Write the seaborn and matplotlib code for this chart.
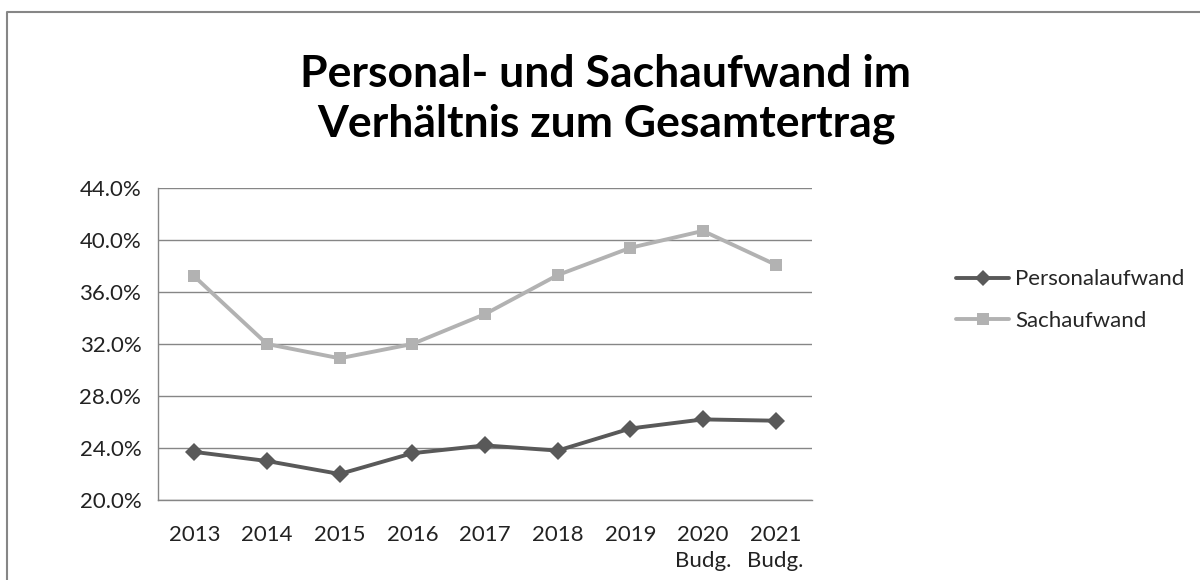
import pandas as pd
import matplotlib.pyplot as plt
import seaborn as sns
from matplotlib.ticker import PercentFormatter, FixedLocator

# data (percent of total revenue)
years = ["2013", "2014", "2015", "2016", "2017", "2018", "2019", "2020\nBudg.", "2021\nBudg."]
personal = [23.7, 23.0, 22.0, 23.6, 24.2, 23.8, 25.5, 26.2, 26.1]
sach = [37.2, 32.0, 30.9, 32.0, 34.3, 37.3, 39.4, 40.7, 38.1]
series_names = ["Personalaufwand", "Sachaufwand"]
yticks = [20, 24, 28, 32, 36, 40, 44]

# long table for seaborn
df = pd.DataFrame({
    "pos": list(range(len(years))) * 2,
    "value": personal + sach,
    "series": [series_names[0]] * len(years) + [series_names[1]] * len(years)
})

sns.set_theme(style="white")
plt.rcParams['font.family'] = ['Lato', 'DejaVu Sans']

fig = plt.figure(figsize=(12, 5.8), dpi=100)
ax = fig.add_axes([158 / 1200, 1 - 500 / 580, (812 - 158) / 1200, (500 - 188) / 580])

sns.lineplot(
    data=df, x="pos", y="value", hue="series", style="series",
    palette={series_names[0]: "#595959", series_names[1]: "#b2b2b2"},
    markers={series_names[0]: "D", series_names[1]: "s"},
    dashes=False, linewidth=2.8, markersize=9, markeredgewidth=0,
    ax=ax, legend=True
)

ax.set_xlim(-0.5, len(years) - 0.5)
ax.set_ylim(20, 44)
ax.set_xticks(range(len(years)))
ax.set_xticklabels(years, fontsize=16, color="#222222", linespacing=1.4)
ax.xaxis.set_minor_locator(FixedLocator([i - 0.5 for i in range(len(years) + 1)]))
ax.tick_params(axis="x", which="major", length=0, pad=18)
ax.tick_params(axis="x", which="minor", length=6, width=1, color="#868686", direction="out")
ax.set_yticks(yticks)
ax.yaxis.set_major_formatter(PercentFormatter(decimals=1))
ax.tick_params(axis="y", length=7, width=1, color="#868686", direction="out", labelsize=16,
               labelcolor="#222222", pad=5)
ax.yaxis.grid(True, color="#868686", linewidth=1)
ax.set_axisbelow(True)
ax.set_xlabel("")
ax.set_ylabel("")

for s in ["top", "right"]:
    ax.spines[s].set_visible(False)
for s in ["left", "bottom"]:
    ax.spines[s].set_color("#868686")
    ax.spines[s].set_linewidth(1)

# legend on the right
h, l = ax.get_legend_handles_labels()
ax.legend(h, l, loc="center left", bbox_to_anchor=(945 / 1200, 1 - 300 / 580),
          bbox_transform=fig.transFigure, frameon=False, fontsize=16, borderpad=0,
          handlelength=2.4, handletextpad=0.25, labelspacing=0.95, markerscale=0.9)

# title
fig.text(0.505, 1 - 99 / 580, "Personal- und Sachaufwand im\nVerhältnis zum Gesamtertrag",
         ha="center", va="center", fontsize=32, fontweight="bold", linespacing=1.3,
         color="black")

# chart frame
fig.add_artist(plt.Line2D([7 / 1200, 7 / 1200, 1], [0, 1 - 12 / 580, 1 - 12 / 580],
                          transform=fig.transFigure, color="#868686", linewidth=1.5))

fig.savefig("out.png", dpi=100)
